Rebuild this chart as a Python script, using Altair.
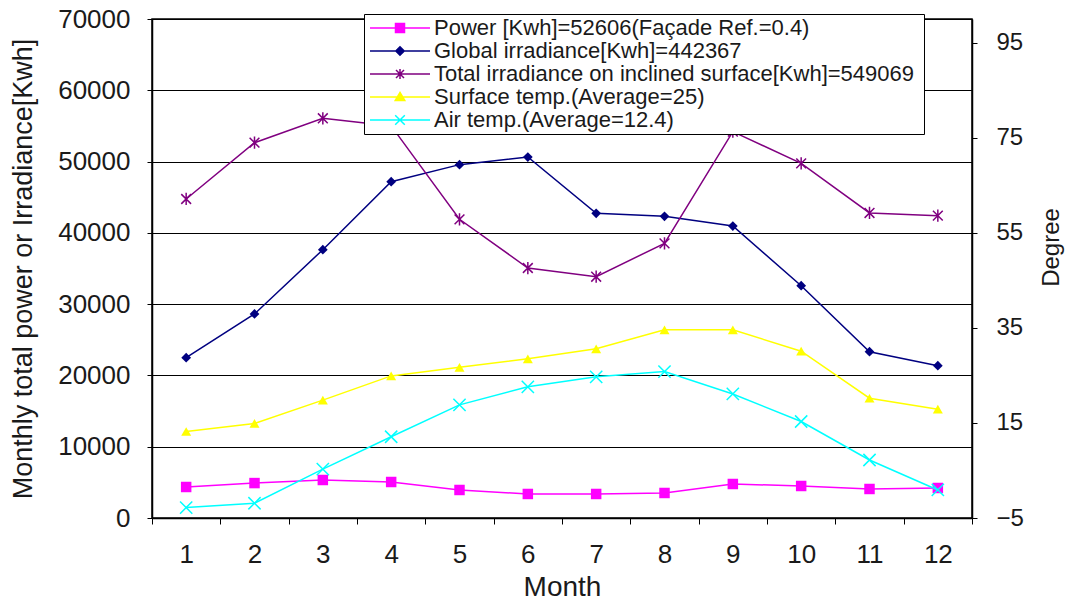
import altair as alt
import pandas as pd

months = list(range(1, 13))

power = [4350, 4900, 5330, 5050, 3930, 3370, 3370, 3510, 4770, 4490, 4070, 4210]
global_irr = [22490, 28620, 37640, 47180, 49570, 50640, 42740, 42320, 40960, 32590, 23330, 21370]
total_irr = [44750, 52650, 56070, 55000, 41900, 35070, 33850, 38530, 54200, 49750, 42790, 42410]
surface_temp = [13.2, 14.9, 19.8, 24.9, 26.7, 28.5, 30.6, 34.6, 34.6, 30.1, 20.2, 17.9]
air_temp = [-2.8, -1.9, 5.3, 12.1, 18.8, 22.6, 24.7, 25.8, 21.1, 15.3, 7.2, 0.9]

names = [
    "Power [Kwh]=52606(Façade  Ref.=0.4)",
    "Global irradiance[Kwh]=442367",
    "Total irradiance  on inclined surface[Kwh]=549069",
    "Surface temp.(Average=25)",
    "Air temp.(Average=12.4)",
]
colors = ["#FF00FF", "#000080", "#800080", "#FFFF00", "#00FFFF"]
left_ticks = [0, 10000, 20000, 30000, 40000, 50000, 60000, 70000]
right_ticks = [-5, 15, 35, 55, 75, 95]

# marker shapes in the plot
asterisk = "M-0.8,-0.8L0.8,0.8M-0.8,0.8L0.8,-0.8M0,-1L0,1"
xcross = "M-1,-1L1,1M-1,1L1,-1"
marker_shapes = ["square", "diamond", asterisk, "triangle-up", xcross]
marker_filled = [True, True, False, True, False]
marker_sizes = [110, 95, 150, 100, 150]

# legend symbols: line segment + marker (unit = 10 px at symbolSize 400)
legend_paths = [
    "M-3,0L3,0M-0.45,-0.45L0.45,-0.45L0.45,0.45L-0.45,0.45Z",
    "M-3,0L3,0M0,-0.42L0.42,0L0,0.42L-0.42,0Z",
    "M-3,0L3,0M-0.4,-0.4L0.4,0.4M-0.4,0.4L0.4,-0.4M0,-0.5L0,0.5",
    "M-3,0L3,0M0,-0.45L0.48,0.36L-0.48,0.36Z",
    "M-3,0L3,0M-0.48,-0.48L0.48,0.48M-0.48,0.48L0.48,-0.48",
]

series_values = [power, global_irr, total_irr, surface_temp, air_temp]
rows = []
for name, vals in zip(names, series_values):
    for m, v in zip(months, vals):
        rows.append({"month": m, "series": name, "value": v})
df = pd.DataFrame(rows)

FONT = "Liberation Sans"
TXT = "#1a1a1a"

x_enc = alt.X(
    "month:O",
    bandPosition=0.5,
    scale=alt.Scale(type="band", paddingInner=0, paddingOuter=0),
    axis=alt.Axis(
        title="Month", labelAngle=0, tickBand="extent", tickSize=6,
        labelFontSize=26, labelPadding=17, titleFontSize=28, titlePadding=6,
        grid=False,
    ),
)

y_left = alt.Y(
    "value:Q",
    scale=alt.Scale(domain=[0, 70000], nice=False),
    axis=alt.Axis(
        title="Monthly total power or Irradiance[Kwh]", orient="left",
        values=left_ticks, format="d", grid=True, gridColor="black",
        gridWidth=1, gridOpacity=1, tickSize=5, labelFontSize=26,
        labelPadding=17, titleFontSize=27, titlePadding=20,
    ),
)

y_right = alt.Y(
    "value:Q",
    scale=alt.Scale(domain=[-5, 100], nice=False),
    axis=alt.Axis(
        title="Degree", orient="right", values=right_ticks, format="d",
        grid=False, tickSize=5, labelFontSize=24, labelPadding=19,
        titleFontSize=24, titlePadding=40, titleAngle=270, titleY=228,
    ),
)

base = alt.Chart(df)

left_layers = []
right_layers = []
for i, name in enumerate(names):
    y_enc = y_left if i < 3 else y_right
    filt = base.transform_filter(alt.datum.series == name)
    line = filt.mark_line(color=colors[i], strokeWidth=1.5).encode(x=x_enc, y=y_enc)
    if marker_filled[i]:
        pts = filt.mark_point(
            shape=marker_shapes[i], filled=True, size=marker_sizes[i],
            color=colors[i], opacity=1,
        ).encode(x=x_enc, y=y_enc)
    else:
        pts = filt.mark_point(
            shape=marker_shapes[i], filled=False, size=marker_sizes[i],
            color=colors[i], opacity=1, strokeWidth=1.5,
        ).encode(x=x_enc, y=y_enc)
    if i < 3:
        left_layers += [line, pts]
    else:
        right_layers += [line, pts]

legend_def = alt.Legend(
    title=None, orient="none", legendX=212, legendY=-5, direction="vertical",
    labelFont=FONT, labelFontSize=22, labelColor=TXT, labelLimit=1000,
    symbolSize=400, symbolStrokeWidth=1.5, symbolOpacity=1,
    strokeColor="black", fillColor="white", padding=3, rowPadding=1,
    symbolOffset=22, labelOffset=23,
)

legend_layer = base.transform_filter("false").mark_point(filled=True, opacity=1).encode(
    x=x_enc,
    y=y_left,
    fill=alt.Fill("series:N", scale=alt.Scale(domain=names, range=colors), legend=legend_def),
    stroke=alt.Stroke("series:N", scale=alt.Scale(domain=names, range=colors), legend=legend_def),
    shape=alt.Shape("series:N", scale=alt.Scale(domain=names, range=legend_paths), legend=legend_def),
)

left = alt.layer(*left_layers, legend_layer)
right = alt.layer(*right_layers)

chart = (
    alt.layer(left, right)
    .resolve_scale(y="independent")
    .properties(
        width=820,
        height=499,
        padding={"left": 152, "top": 19, "right": 103, "bottom": 85},
        autosize=alt.AutoSizeParams(type="none"),
        background="white",
    )
    .configure_view(stroke="black", strokeWidth=1.5)
    .configure_axis(
        labelFont=FONT, titleFont=FONT, labelColor=TXT, titleColor=TXT,
        titleFontWeight="normal", domainColor="black", tickColor="black",
        domainWidth=1.5,
    )
)

chart.save("out.html", embed_options={"renderer": "svg", "actions": False})
